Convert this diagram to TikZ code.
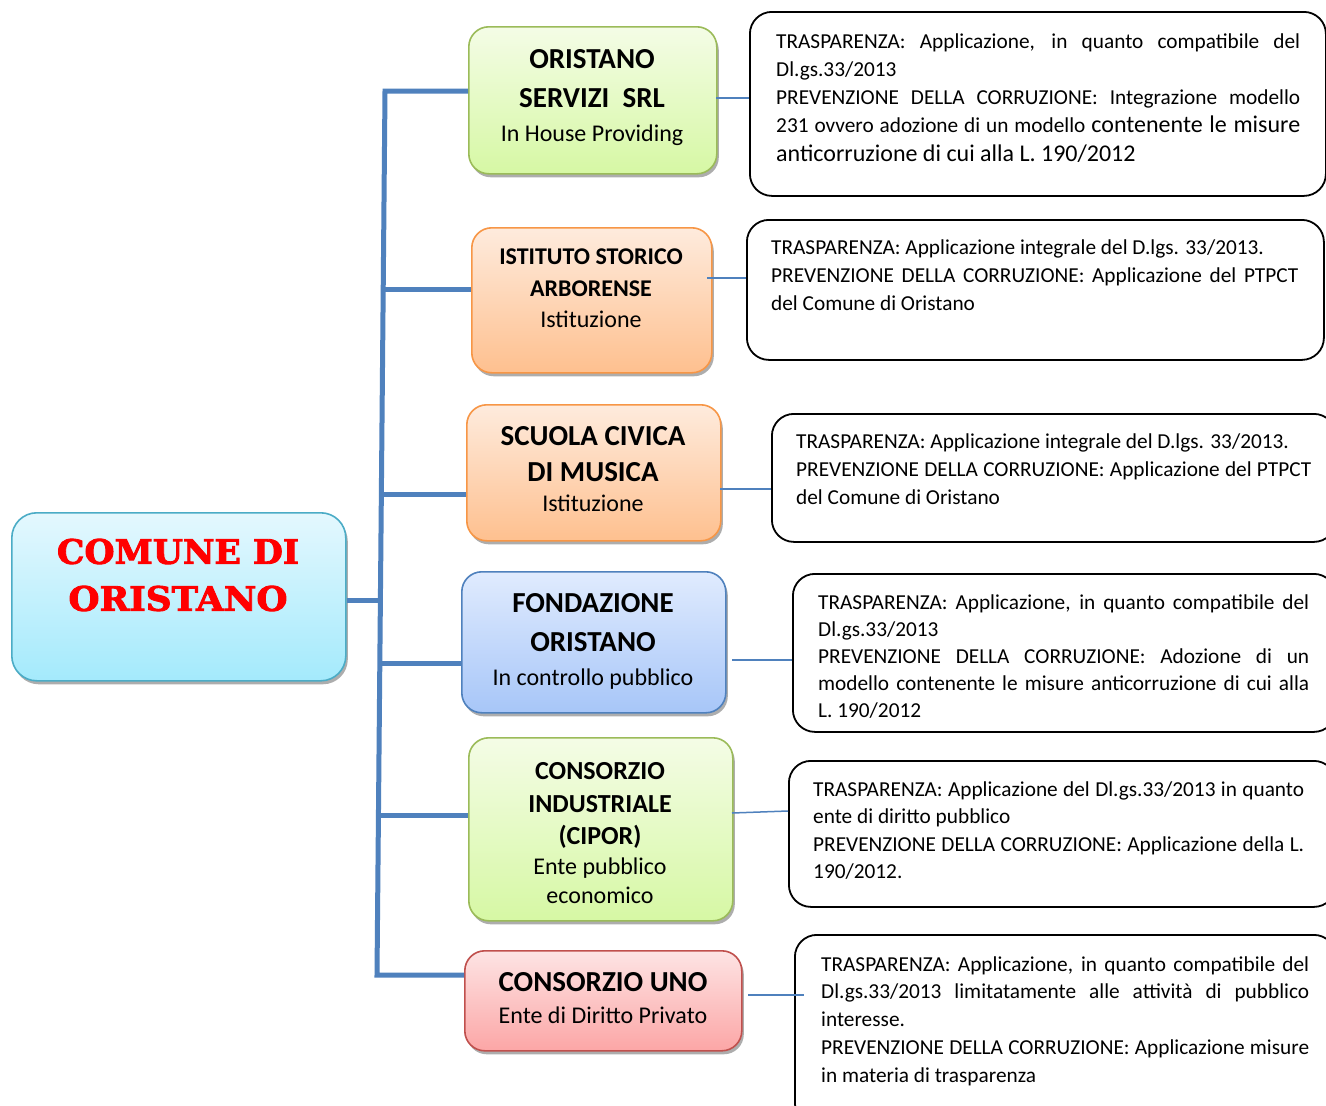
\documentclass[tikz,border=0pt]{standalone}
\usepackage{graphicx}
\usepackage{fontspec}
\setmainfont{Carlito}
\newfontfamily\titlefont[FakeBold=2.5]{DejaVu Serif Bold}
\usetikzlibrary{shadows,calc}
\hyphenpenalty=10000
\exhyphenpenalty=10000
\definecolor{trunkblue}{HTML}{4F81BD}
\definecolor{gTop}{HTML}{F4FCE6}
\definecolor{gBot}{HTML}{D6F8A4}
\definecolor{gBrd}{HTML}{9BBB59}
\definecolor{oTop}{HTML}{FEEBDD}
\definecolor{oBot}{HTML}{FEC08F}
\definecolor{oBrd}{HTML}{F79646}
\definecolor{bTop}{HTML}{E0EBFE}
\definecolor{bBot}{HTML}{A7C6F8}
\definecolor{bBrd}{HTML}{4F81BD}
\definecolor{rTop}{HTML}{FDE4E4}
\definecolor{rBot}{HTML}{FCA6A6}
\definecolor{rBrd}{HTML}{C0504D}
\definecolor{cTop}{HTML}{E4F8FE}
\definecolor{cBot}{HTML}{A4EAFC}
\definecolor{cBrd}{HTML}{4BACC6}
\newcommand{\ttl}[2]{{\bfseries\fontsize{#1}{#1}\selectfont #2}}
\tikzset{
  cbox/.style={draw, line width=1.6pt, rounded corners=20pt, anchor=north west,
    inner sep=0pt,
    drop shadow={shadow xshift=2pt, shadow yshift=-3.5pt, fill=black!40, opacity=0.8}},
  gbox/.style={cbox, draw=gBrd, top color=gTop, bottom color=gBot},
  obox/.style={cbox, draw=oBrd, top color=oTop, bottom color=oBot},
  blbox/.style={cbox, draw=bBrd, top color=bTop, bottom color=bBot},
  rdbox/.style={cbox, draw=rBrd, top color=rTop, bottom color=rBot},
  cybox/.style={cbox, draw=cBrd, top color=cTop, bottom color=cBot, rounded corners=25pt},
  lbl/.style={inner sep=0pt, align=center},
  tbox/.style={draw=black, line width=1.8pt, rounded corners=22pt, anchor=north west, inner sep=0pt},
  txt/.style={anchor=base west, inner sep=0pt, font=\fontsize{21.3}{28.3}\selectfont},
  trunk/.style={draw=trunkblue, line width=5pt},
  link/.style={draw=trunkblue, line width=1.5pt},
}
\begin{document}
\begin{tikzpicture}[x=1pt,y=-1pt]
\useasboundingbox (0,0) rectangle (1326,1106);
\fill[white] (0,0) rectangle (1326,1106);
\clip (0,0) rectangle (1326,1106);

% main node
\node[cybox, minimum width=334pt, minimum height=168pt] (m) at (11,512) {};
\node[lbl, text=red, font=\titlefont\fontsize{20}{47}\selectfont] (title) at (178,575)
  {\resizebox{242pt}{25pt}{COMUNE DI}\\\resizebox{219pt}{25pt}{ORISTANO}};

% coloured nodes
\node[gbox, minimum width=248pt, minimum height=147pt] (c1) at (468,26) {};
\node[lbl, font=\fontsize{24}{33.4}\selectfont] (c1t) at (592,97.5)
  {\ttl{29}{ORISTANO}\\[5.6pt]\ttl{29}{SERVIZI\ \ SRL}\\In House Providing};
\node[obox, minimum width=240pt, minimum height=145pt] (c2) at (471,227) {};
\node[lbl, font=\fontsize{24}{31}\selectfont] (c2t) at (591,288.5)
  {\ttl{24}{ISTITUTO STORICO}\\[1pt]\ttl{24}{ARBORENSE}\\Istituzione};
\node[obox, minimum width=254pt, minimum height=136pt] (c3) at (466,404) {};
\node[lbl, font=\fontsize{24}{30.4}\selectfont] (c3t) at (593,469)
  {\ttl{29}{SCUOLA CIVICA}\\[5.6pt]\ttl{29}{DI MUSICA}\\Istituzione};
\node[blbox, minimum width=264pt, minimum height=141pt] (c4) at (461,571) {};
\node[lbl, font=\fontsize{24}{33.4}\selectfont] (c4t) at (593,641.5)
  {\ttl{29}{FONDAZIONE}\\[5.6pt]\ttl{29}{ORISTANO}\\In controllo pubblico};
\node[gbox, minimum width=264pt, minimum height=183pt] (c5) at (468,737) {};
\node[lbl, font=\fontsize{24}{29}\selectfont] (c5t) at (600,833)
  {\ttl{26}{CONSORZIO}\\[4pt]\ttl{26}{INDUSTRIALE}\\[3pt]\ttl{26}{(CIPOR)}\\[1.3pt]Ente pubblico\\economico};
\node[rdbox, minimum width=277pt, minimum height=100pt] (c6) at (464,950) {};
\node[lbl, font=\fontsize{24}{32.4}\selectfont] (c6t) at (603,998)
  {\ttl{29}{CONSORZIO UNO}\\Ente di Diritto Privato};

% trunk
\coordinate (ttop) at (385,91);
\coordinate (tbot) at (377,975);
\coordinate (b2) at ($(ttop)!0.225!(tbot)$);
\coordinate (b3) at ($(ttop)!0.457!(tbot)$);
\coordinate (bm) at ($(ttop)!0.576!(tbot)$);
\coordinate (b4) at ($(ttop)!0.648!(tbot)$);
\coordinate (b5) at ($(ttop)!0.819!(tbot)$);
\draw[trunk] (ttop -| c1.west) -- (ttop) -- (tbot) -- (tbot -| c6.west);
\draw[trunk] (b2) -- (b2 -| c2.west);
\draw[trunk] (b3) -- (b3 -| c3.west);
\draw[trunk] (bm -| m.east) -- (bm);
\draw[trunk] (b4) -- (b4 -| c4.west);
\draw[trunk] (b5) -- (b5 -| c5.west);

% text boxes
\node[tbox, minimum width=576pt, minimum height=184pt] (t1) at (749,11) {};
\node[txt] (t1x) at (776,48) {\parbox[t]{524pt}{TRASPARENZA: Applicazione, in quanto compatibile del\linebreak
 Dl.gs.33/2013\\
 PREVENZIONE DELLA CORRUZIONE: Integrazione modello\linebreak
 231 ovvero adozione di un modello {\fontsize{24}{28.3}\selectfont contenente le misure\linebreak
 anticorruzione di cui alla L. 190/2012}}};

\node[tbox, minimum width=577pt, minimum height=140pt] (t2) at (746,219) {};
\node[txt] (t2x) at (771,254) {\parbox[t]{527pt}{TRASPARENZA: Applicazione integrale del D.lgs. 33/2013.\\
 PREVENZIONE DELLA CORRUZIONE: Applicazione del PTPCT\linebreak
 del Comune di Oristano}};

\node[tbox, minimum width=564pt, minimum height=128pt] (t3) at (771,413) {};
\node[txt] (t3x) at (796,448) {\parbox[t]{515pt}{TRASPARENZA: Applicazione integrale del D.lgs. 33/2013.\\
 PREVENZIONE DELLA CORRUZIONE: Applicazione del PTPCT\linebreak
 del Comune di Oristano}};

\node[tbox, minimum width=543pt, minimum height=158pt] (t4) at (792,573) {};
\node[txt, font=\fontsize{21.3}{27}\selectfont] (t4x) at (818,609) {\parbox[t]{491pt}{TRASPARENZA: Applicazione, in quanto compatibile del\linebreak
 Dl.gs.33/2013\\
 PREVENZIONE DELLA CORRUZIONE: Adozione di un\linebreak
 modello contenente le misure anticorruzione di cui alla\linebreak
 L. 190/2012}};

\node[tbox, minimum width=547pt, minimum height=146pt] (t5) at (788,760) {};
\node[txt, font=\fontsize{21.3}{27.5}\selectfont] (t5x) at (813,796) {\parbox[t]{491pt}{TRASPARENZA: Applicazione del Dl.gs.33/2013 in quanto\linebreak
 ente di diritto pubblico\\
 PREVENZIONE DELLA CORRUZIONE: Applicazione della L.\linebreak
 190/2012.}};

\node[tbox, minimum width=541pt, minimum height=190pt] (t6) at (794,934) {};
\node[txt, font=\fontsize{21.3}{27.8}\selectfont] (t6x) at (821,971) {\parbox[t]{488pt}{TRASPARENZA: Applicazione, in quanto compatibile del\linebreak
 Dl.gs.33/2013 limitatamente alle attività di pubblico\linebreak
 interesse.\\
 PREVENZIONE DELLA CORRUZIONE: Applicazione misure\linebreak
 in materia di trasparenza}};

% thin links
\coordinate (l1) at (716,98);
\coordinate (l2) at (707,278);
\coordinate (l3) at (720,489);
\coordinate (l4) at (732,660);
\coordinate (l5) at (732,813);
\coordinate (l5e) at (788,811);
\coordinate (l6) at (748,995);
\coordinate (l6e) at (804,995);
\draw[link] (l1) -- (l1 -| t1.west);
\draw[link] (l2) -- (l2 -| t2.west);
\draw[link] (l3) -- (l3 -| t3.west);
\draw[link] (l4) -- (l4 -| t4.west);
\draw[link] (l5) -- (l5e);
\draw[link] (l6) -- (l6e);
\end{tikzpicture}
\end{document}
